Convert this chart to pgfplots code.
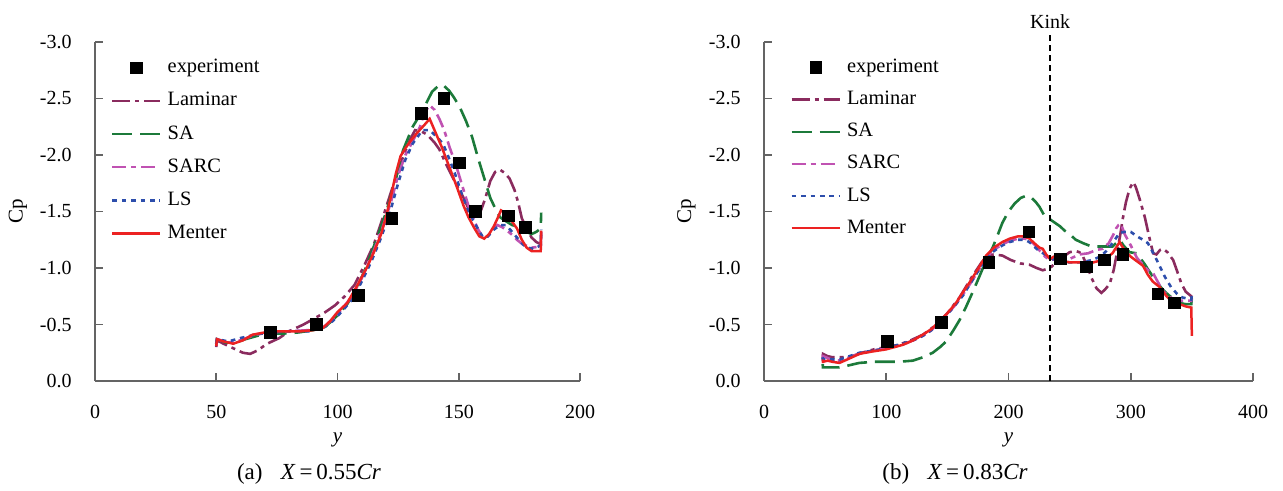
\documentclass[border=0pt]{standalone}
\usepackage{fontspec}
\setmainfont{Liberation Serif}
\usepackage{pgfplots}
\pgfplotsset{compat=1.18}

\definecolor{laminar}{RGB}{138,43,94}
\definecolor{sa}{RGB}{28,122,58}
\definecolor{sarc}{RGB}{192,82,178}
\definecolor{ls}{RGB}{45,78,172}
\definecolor{menter}{RGB}{236,34,34}
\definecolor{axisgray}{RGB}{100,100,100}

\pgfplotsset{
  cpaxis/.style={
    scale only axis, height=169.5pt, anchor=south west,
    axis x line=bottom, axis y line=left,
    axis line style={-, draw=axisgray, line width=1pt},
    tick align=inside, major tick length=4pt,
    tick style={draw=axisgray, line width=0.8pt},
    y dir=reverse, ymin=-3, ymax=0, ytick={-3,-2.5,...,0}, xmin=0,
    /pgf/number format/assume math mode=true,
    ticklabel style={font=\fontsize{10}{12}\selectfont},
    yticklabel style={/pgf/number format/.cd, fixed, fixed zerofill, precision=1,
      /tikz/.cd, anchor=east, inner sep=0pt, xshift=-11.5pt},
    xticklabel style={anchor=center, inner sep=0pt, yshift=-15.5pt},
    every axis x label/.style={at={(axis description cs:0.5,0)}, anchor=center,
      yshift=-29.5pt, font=\fontsize{10.5}{12}\selectfont},
    every axis y label/.style={at={(axis description cs:-0.1588,0.5)}, anchor=center,
      rotate=90, font=\fontsize{10.5}{12}\selectfont},
    xlabel={\textit{y}}, ylabel={Cp},
    clip=false,
    legend image code/.code={\draw[#1] (0pt,0pt) -- (24pt,0pt);},
    legend cell align=left,
    legend style={draw=none, fill=none, at={(axis description cs:0,1)},
      anchor=north west, inner sep=0pt,
      nodes={inner sep=0pt, text height=7pt, text depth=2pt,
        font=\fontsize{10.2}{12}\selectfont},
      /tikz/every odd column/.append style={column sep=3pt}},
  },
  mark legend/.style={legend image code/.code={\draw[##1] plot coordinates {(12pt,0pt)};}},
  exp/.style={black, only marks, mark=square*, mark size=2.9pt},
  lam/.style={laminar, line width=1.3pt, dash pattern=on 9pt off 2.5pt on 2pt off 2.5pt},
  sas/.style={sa, line width=1.3pt, dash pattern=on 10pt off 4pt},
  sarcs/.style={sarc, line width=1.3pt, dash pattern=on 7pt off 2.5pt on 2.5pt off 2.5pt},
  lss/.style={ls, line width=1.3pt, dash pattern=on 2.3pt off 2.4pt},
  men/.style={menter, line width=1.25pt},
}

\begin{document}
\begin{tikzpicture}
\useasboundingbox (0,0) rectangle (641.5pt,245.5pt);

% ---------- (a) X = 0.55 Cr ----------
\begin{axis}[cpaxis, at={(47.5pt,55pt)}, width=242.5pt,
  xmax=200, xtick={0,50,...,200},
  legend style={xshift=7.85pt, yshift=-8.2pt, row sep=7.55pt}]
\addlegendimage{exp, mark legend}
\addlegendentry{experiment}
\addplot[lam] coordinates {(50,-0.30)(50.3,-0.36)(53,-0.33)(57,-0.29)(61,-0.25)(64,-0.24)(67,-0.27)(71,-0.33)(76,-0.38)(80,-0.44)(86,-0.50)(91,-0.56)(95,-0.61)(99,-0.67)(103,-0.75)(107,-0.85)(111,-1.02)(115,-1.21)(118,-1.40)(121,-1.60)(124,-1.80)(127,-1.98)(130,-2.14)(132,-2.22)(134.5,-2.21)(137,-2.18)(140,-2.11)(142,-2.05)(145,-1.91)(148,-1.78)(152,-1.62)(155,-1.48)(157,-1.44)(159,-1.50)(161,-1.62)(163,-1.77)(165,-1.85)(167,-1.87)(169,-1.84)(171,-1.79)(173,-1.69)(174.5,-1.58)(176,-1.44)(178,-1.35)(180,-1.27)(182,-1.23)(183.8,-1.21)(184,-1.33)};
\addlegendentry{Laminar}
\addplot[sas] coordinates {(50,-0.33)(50.3,-0.37)(54,-0.34)(58,-0.34)(62,-0.37)(67,-0.40)(72,-0.42)(78,-0.42)(84,-0.43)(90,-0.45)(95,-0.48)(100,-0.58)(104,-0.68)(108,-0.82)(112,-1.02)(116,-1.25)(120,-1.49)(124,-1.78)(127,-2.04)(131,-2.25)(135,-2.39)(139,-2.56)(141.5,-2.61)(143.5,-2.62)(146,-2.57)(148,-2.51)(150.5,-2.42)(153,-2.30)(155.5,-2.16)(158,-1.97)(161,-1.76)(163,-1.62)(165,-1.53)(167,-1.45)(169,-1.42)(172,-1.38)(175,-1.36)(178,-1.32)(180,-1.30)(182,-1.32)(183.8,-1.35)(184,-1.49)};
\addlegendentry{SA}
\addplot[sarcs] coordinates {(50,-0.31)(50.3,-0.37)(55,-0.34)(60,-0.36)(66,-0.41)(72,-0.43)(80,-0.44)(88,-0.45)(94,-0.47)(98,-0.55)(102,-0.64)(106,-0.75)(110,-0.91)(114,-1.10)(118,-1.32)(122,-1.58)(125,-1.82)(128,-2.00)(131,-2.12)(134,-2.25)(136,-2.38)(138,-2.44)(140,-2.40)(142,-2.32)(144,-2.22)(146.2,-2.07)(149,-1.90)(151.7,-1.71)(154,-1.55)(156,-1.44)(158,-1.34)(160,-1.27)(162,-1.28)(164.7,-1.36)(166,-1.38)(168,-1.36)(170,-1.33)(172.2,-1.29)(174,-1.25)(176.3,-1.21)(180,-1.18)(183.8,-1.19)(184,-1.33)};
\addlegendentry{SARC}
\addplot[lss] coordinates {(50,-0.33)(50.3,-0.37)(55,-0.35)(60,-0.38)(66,-0.41)(72,-0.43)(80,-0.44)(88,-0.44)(94,-0.47)(98,-0.53)(102,-0.62)(106,-0.72)(110,-0.88)(114,-1.06)(118,-1.27)(122,-1.52)(125,-1.75)(128,-1.96)(131,-2.10)(135,-2.22)(138,-2.22)(141,-2.16)(143.5,-2.10)(146,-1.97)(148.5,-1.83)(151,-1.67)(154,-1.50)(157,-1.38)(160,-1.27)(162,-1.28)(164.5,-1.34)(167,-1.38)(169.5,-1.38)(172,-1.32)(174,-1.27)(176,-1.22)(178,-1.18)(181,-1.17)(183.8,-1.20)(184,-1.34)};
\addlegendentry{LS}
\addplot[men] coordinates {(50,-0.31)(50.3,-0.37)(53,-0.35)(57,-0.33)(61,-0.36)(65,-0.41)(70,-0.43)(75,-0.44)(80,-0.44)(85,-0.44)(90,-0.45)(94,-0.47)(97,-0.53)(100,-0.61)(104,-0.69)(108,-0.84)(112,-1.00)(115,-1.14)(118,-1.30)(120,-1.45)(122,-1.63)(124,-1.83)(126,-1.99)(128,-2.06)(130,-2.12)(133,-2.20)(136,-2.27)(138,-2.32)(140,-2.22)(143,-2.07)(146,-1.90)(149,-1.73)(152,-1.55)(154,-1.45)(156.5,-1.35)(158.5,-1.28)(160.5,-1.26)(162.5,-1.30)(164.5,-1.37)(166,-1.44)(167.4,-1.51)(169,-1.49)(170.5,-1.45)(172,-1.41)(174,-1.35)(176,-1.25)(178,-1.18)(180,-1.15)(183.8,-1.15)(184,-1.33)};
\addlegendentry{Menter}
\addplot[exp, forget plot] coordinates {(72.3,-0.43)(91.4,-0.50)(108.6,-0.76)(122.5,-1.44)(134.6,-2.37)(143.9,-2.50)(150.3,-1.93)(156.9,-1.50)(170.4,-1.46)(177.4,-1.36)};
\end{axis}

% ---------- (b) X = 0.83 Cr ----------
\begin{axis}[cpaxis, at={(382pt,55pt)}, width=244.5pt,
  xmax=400, xtick={0,100,...,400},
  legend style={xshift=13pt, yshift=-8.1pt, row sep=7.05pt}]
\addlegendimage{exp, mark legend}
\addlegendentry{experiment}
\addplot[lam] coordinates {(48,-0.19)(48.3,-0.24)(52,-0.22)(56,-0.21)(64,-0.21)(72,-0.22)(80,-0.25)(90,-0.28)(100,-0.30)(110,-0.32)(120,-0.36)(130,-0.41)(140,-0.49)(150,-0.60)(160,-0.74)(170,-0.92)(178,-1.05)(183,-1.11)(188,-1.12)(195,-1.11)(202,-1.07)(210,-1.04)(217,-1.03)(223,-1.00)(228,-0.98)(231,-0.99)(235,-1.01)(240,-1.06)(245,-1.10)(250,-1.14)(255,-1.15)(258,-1.14)(261,-1.10)(264.9,-1.00)(268,-0.91)(272,-0.82)(276,-0.78)(279,-0.81)(282.8,-0.86)(286,-0.98)(289,-1.15)(291.5,-1.30)(293.7,-1.45)(296,-1.58)(299,-1.70)(301.9,-1.76)(304,-1.72)(307,-1.62)(311.5,-1.45)(315,-1.28)(318.3,-1.13)(321,-1.12)(324,-1.16)(326.5,-1.17)(330,-1.14)(334.7,-1.07)(338,-0.97)(341.5,-0.86)(345,-0.79)(349.5,-0.75)(350,-0.67)};
\addlegendentry{Laminar}
\addplot[sas] coordinates {(48,-0.15)(48.2,-0.12)(55,-0.12)(61.7,-0.12)(70,-0.14)(78,-0.16)(90,-0.17)(100,-0.17)(110,-0.17)(121.7,-0.18)(130,-0.21)(138,-0.25)(144,-0.30)(149,-0.35)(155,-0.45)(160,-0.54)(165,-0.65)(170,-0.77)(176,-0.92)(181,-1.05)(187,-1.18)(190,-1.26)(195,-1.40)(200,-1.50)(205,-1.57)(210,-1.62)(214.5,-1.64)(219,-1.62)(222.6,-1.58)(225.4,-1.54)(229,-1.47)(232,-1.44)(234,-1.43)(238,-1.40)(242,-1.37)(246,-1.33)(250,-1.30)(255,-1.25)(261,-1.22)(268,-1.19)(277,-1.19)(285,-1.19)(288,-1.22)(291,-1.25)(294,-1.20)(299,-1.14)(304.7,-1.13)(311,-1.04)(318.3,-0.92)(323,-0.85)(327,-0.80)(331,-0.76)(334.7,-0.73)(340,-0.69)(345,-0.68)(349.5,-0.68)(350,-0.74)};
\addlegendentry{SA}
\addplot[sarcs] coordinates {(48,-0.19)(48.2,-0.22)(55,-0.19)(62,-0.18)(70,-0.21)(78,-0.24)(90,-0.27)(100,-0.29)(113,-0.32)(122,-0.36)(130,-0.40)(137,-0.45)(143.5,-0.52)(150,-0.59)(157,-0.68)(163,-0.77)(168,-0.85)(175,-0.97)(181.7,-1.09)(188,-1.16)(195,-1.21)(201,-1.24)(207.7,-1.26)(213,-1.26)(217,-1.25)(221,-1.21)(225,-1.16)(230,-1.10)(234,-1.07)(240,-1.08)(245,-1.09)(250,-1.08)(258,-1.12)(265,-1.13)(272,-1.16)(277,-1.17)(282,-1.22)(286,-1.30)(288,-1.35)(290,-1.38)(292,-1.39)(295,-1.30)(300,-1.20)(305,-1.09)(310,-1.03)(314,-0.98)(318,-0.96)(322,-0.88)(326,-0.80)(331,-0.75)(336,-0.72)(342,-0.71)(349.5,-0.71)(350,-0.75)};
\addlegendentry{SARC}
\addplot[lss] coordinates {(48,-0.21)(48.2,-0.19)(55,-0.19)(62,-0.19)(70,-0.22)(78,-0.25)(90,-0.27)(100,-0.29)(113,-0.33)(122,-0.36)(130,-0.40)(137,-0.45)(143.5,-0.52)(150,-0.59)(157,-0.68)(163,-0.76)(168,-0.85)(175,-0.97)(181.7,-1.08)(188,-1.15)(195,-1.20)(201,-1.23)(207.7,-1.25)(213,-1.25)(217,-1.23)(221,-1.19)(225,-1.15)(230,-1.12)(234,-1.09)(240,-1.06)(250,-1.05)(260,-1.05)(268,-1.07)(275,-1.10)(280,-1.15)(285,-1.22)(290.9,-1.31)(295,-1.32)(300,-1.32)(305,-1.28)(310,-1.25)(314,-1.22)(319,-1.12)(324,-1.01)(328,-0.92)(333,-0.83)(338,-0.77)(342,-0.74)(346,-0.73)(349.5,-0.72)(350,-0.76)};
\addlegendentry{LS}
\addplot[men] coordinates {(48,-0.19)(48.2,-0.17)(52,-0.18)(56,-0.17)(61.7,-0.16)(70,-0.20)(78,-0.24)(88,-0.26)(100,-0.28)(113.5,-0.32)(122,-0.36)(130,-0.41)(137,-0.46)(143.5,-0.53)(150,-0.60)(157,-0.69)(163,-0.79)(168,-0.87)(175,-0.99)(181.7,-1.11)(188,-1.18)(195,-1.23)(201,-1.26)(207.7,-1.28)(213,-1.28)(217.2,-1.26)(221,-1.22)(225.4,-1.18)(228,-1.17)(230.8,-1.12)(234,-1.08)(237,-1.10)(240,-1.09)(245,-1.06)(250,-1.05)(258,-1.05)(266,-1.04)(273,-1.06)(280,-1.09)(285,-1.13)(288,-1.18)(290.9,-1.23)(293,-1.19)(296.4,-1.14)(300,-1.10)(305,-1.06)(310,-1.02)(314,-0.94)(318,-0.88)(323.8,-0.83)(329.3,-0.75)(333,-0.71)(337.5,-0.69)(345,-0.66)(349.5,-0.65)(350,-0.40)};
\addlegendentry{Menter}
\addplot[black, line width=0.6pt, dash pattern=on 3pt off 2pt, forget plot] coordinates {(234,0)(234,-3.06)};
\node[anchor=base, inner sep=0pt, yshift=3.5pt, font=\fontsize{10}{12}\selectfont] at (axis cs:234,-3.06) {Kink};
\addplot[exp, forget plot] coordinates {(100.7,-0.35)(144.9,-0.52)(183.9,-1.05)(216.6,-1.32)(242.3,-1.08)(263.6,-1.01)(278.6,-1.07)(293.6,-1.12)(322.2,-0.77)(335.9,-0.69)};
\end{axis}

% sub-figure captions
\node[font=\fontsize{11.5}{13}\selectfont] at (154.5pt,8.5pt) {(a)\hspace{0.8em}\textit{X}\,=\,0.55\textit{Cr}};
\node[font=\fontsize{11.5}{13}\selectfont] at (477.5pt,8.5pt) {(b)\hspace{0.8em}\textit{X}\,=\,0.83\textit{Cr}};
\end{tikzpicture}
\end{document}
